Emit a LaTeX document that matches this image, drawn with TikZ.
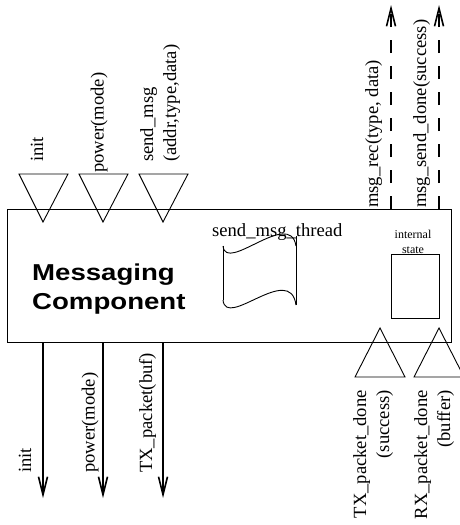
\documentclass[tikz,border=0pt]{standalone}
\usepackage{fontspec}
\usepackage{graphicx}
\setmainfont{Liberation Serif}
\newfontfamily\boldsans{Liberation Sans}
\usetikzlibrary{arrows.meta}
\tikzset{
  lbl/.style={font=\fontsize{18.6}{23}\selectfont, inner sep=0pt, rotate=90},
  port/.style={draw, line width=0.9pt, line join=miter},
  sig/.style={line width=2pt, -{Straight Barb[length=18pt,width=9pt,line width=1.6pt]}},
  evt/.style={sig, dash pattern=on 13pt off 13pt},
  thin/.style={line width=0.9pt},
}
\begin{document}
\begin{tikzpicture}[x=1pt,y=-1pt]
\useasboundingbox (0,0) rectangle (459,525);
% main component
\node[draw, thin, anchor=north west, inner sep=0pt, minimum width=444pt, minimum height=133pt] (comp) at (7,209) {};
\node[anchor=base west, inner sep=0pt, align=left, font=\boldsans\bfseries\fontsize{23}{29}\selectfont] (title) at (32,309)
  {\scalebox{1.2}[1]{Messaging}\\\scalebox{1.2}[1]{Component}};
% input ports (top)
\draw[port] (19,174) -- (68,174) -- (43,222) -- cycle;
\draw[port] (79,174) -- (128,174) -- (103,222) -- cycle;
\draw[port] (139,174) -- (188,174) -- (163,222) -- cycle;
\node[lbl, anchor=base west] (linit) at (43,162) {init};
\node[lbl, anchor=base west] (lpow) at (103.5,173) {power(mode)};
\node[lbl, anchor=base west, align=left] (lsend) at (176,162) {send\_msg\\(addr,type,data)};
% output events (top, dashed)
\coordinate (e1) at (391,5);
\coordinate (e2) at (439,5);
\draw[evt] (comp.north -| e1) -- (e1);
\draw[evt] (comp.north -| e2) -- (e2);
\node[lbl, anchor=base west] (lrec) at (378,208) {msg\_rec(type, data)};
\node[lbl, anchor=base west] (ldone) at (426,208) {msg\_send\_done(success)};
% output commands (bottom)
\coordinate (o1) at (43,498);
\coordinate (o2) at (103,498);
\coordinate (o3) at (163,498);
\draw[sig] (comp.south -| o1) -- (o1);
\draw[sig] (comp.south -| o2) -- (o2);
\draw[sig] (comp.south -| o3) -- (o3);
\node[lbl, anchor=base west] (binit) at (31,473) {init};
\node[lbl, anchor=base west] (bpow) at (94.5,473) {power(mode)};
\node[lbl, anchor=base west] (btx) at (152,473) {TX\_packet(buf)};
% input events (bottom)
\draw[port] (355,377) -- (405,377) -- (380,328) -- cycle;
\draw[port] (414,377) -- (464,377) -- (439,328) -- cycle;
\node[lbl, anchor=base east, align=right] (btxd) at (389,390) {TX\_packet\_done\\(success)};
\node[lbl, anchor=base east, align=right] (brxd) at (450,390) {RX\_packet\_done\\(buffer)};
% thread
\node[anchor=base west, inner sep=0pt, font=\fontsize{18.6}{23}\selectfont] (thr) at (212,236) {send\_msg\_thread};
\draw[thin] (223,246) .. controls (226,274) and (290,208) .. (296,246);
\draw[thin] (223,300) .. controls (226,330) and (290,262) .. (296,305);
\draw[thin] (223,246) -- (223,300);
\draw[thin] (296,236) -- (296,305);
% internal state
\node[draw, thin, anchor=north west, inner sep=0pt, minimum width=48pt, minimum height=64pt] (state) at (391,254) {};
\node[anchor=base, inner sep=0pt, align=center, font=\fontsize{12}{15}\selectfont] (statelbl) at (413,253) {internal\\state};
\end{tikzpicture}
\end{document}
